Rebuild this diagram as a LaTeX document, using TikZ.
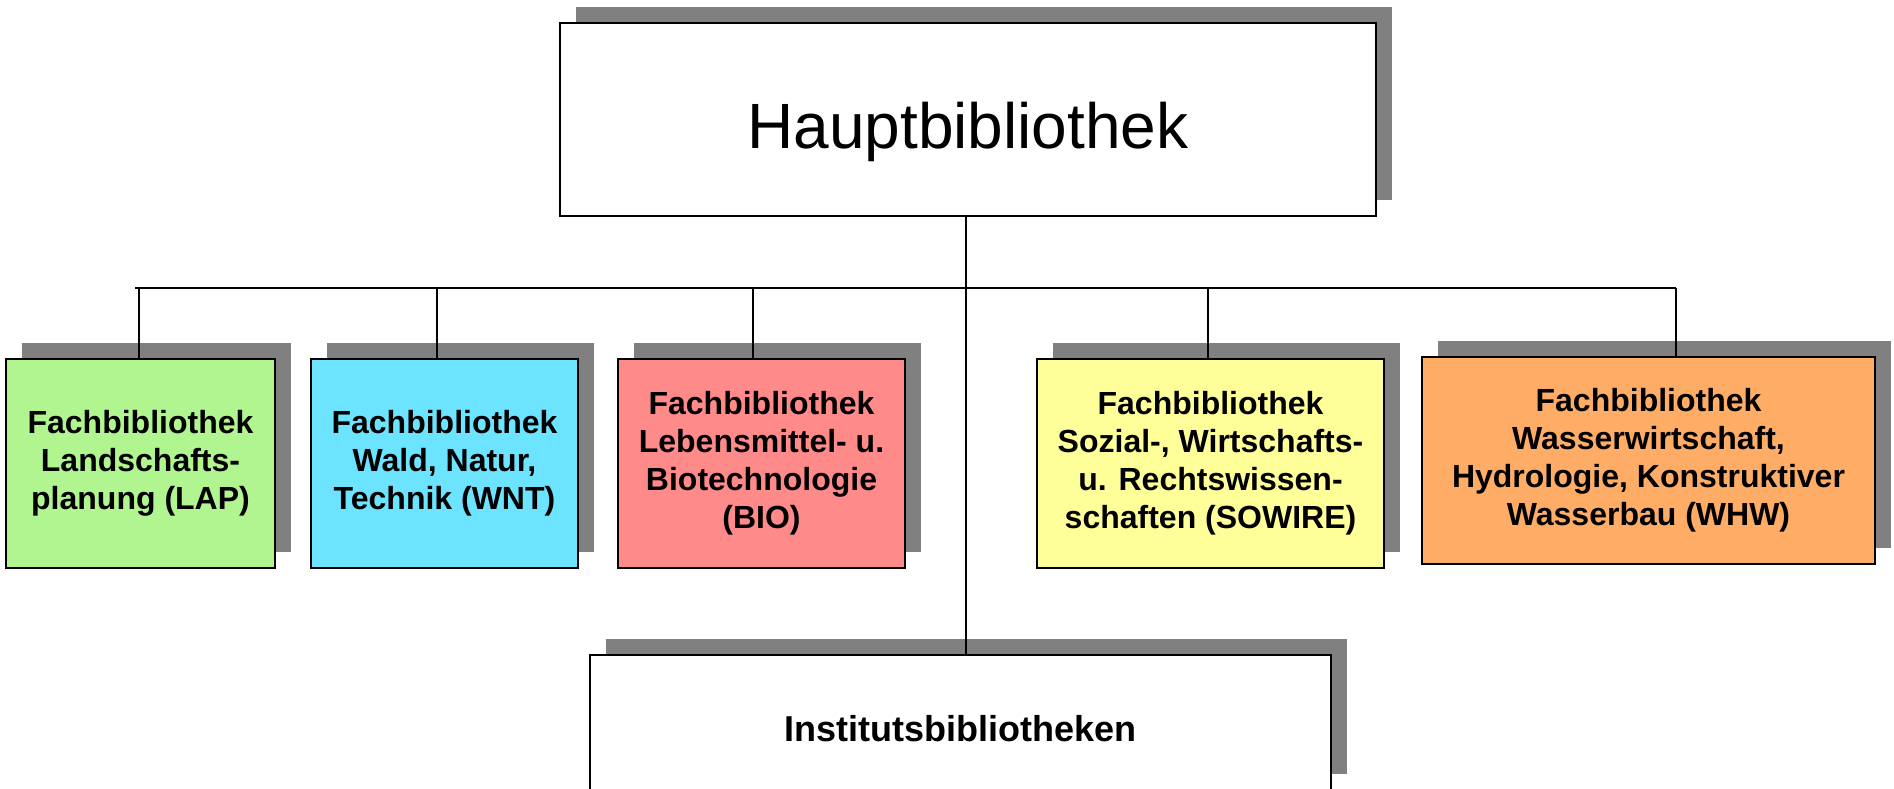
\documentclass[tikz,border=0pt]{standalone}
\usepackage{fontspec}
\setmainfont{Liberation Sans}
\usetikzlibrary{shadows}
\definecolor{shadowgray}{HTML}{808080}
\definecolor{lapgreen}{HTML}{B0F590}
\definecolor{wntcyan}{HTML}{6CE3FF}
\definecolor{biored}{HTML}{FF8A8A}
\definecolor{sowireyellow}{HTML}{FFFF99}
\definecolor{whworange}{HTML}{FFAD66}
\newcommand\lowertext[2]{\raisebox{-#1}[\height][\depth]{#2}}
\begin{document}
\begin{tikzpicture}[x=1pt,y=-1pt,
	box/.style={draw,line width=1.6pt,inner sep=0pt,align=center,
		font=\bfseries\fontsize{32}{38}\selectfont,
		drop shadow={shadow xshift=16pt,shadow yshift=16pt,fill=shadowgray,opacity=1}},
	fach/.style={box,minimum height=209}]
	\useasboundingbox(0,0)rectangle(1894,789);
	\node[box,fill=white,font=\fontsize{64}{77}\selectfont,minimum width=816,minimum height=193](haupt)at(968,119.5){\lowertext{12pt}{Hauptbibliothek}};
	\node[fach,fill=lapgreen,minimum width=269](lap)at(140.5,463.5){Fachbibliothek\\Landschafts-\\planung (LAP)};
	\node[fach,fill=wntcyan,minimum width=267](wnt)at(444.5,463.5){Fachbibliothek\\Wald, Natur,\\Technik (WNT)};
	\node[fach,fill=biored,minimum width=287](bio)at(761.5,463.5){Fachbibliothek\\Lebensmittel- u.\\Biotechnologie\\(BIO)};
	\node[fach,fill=sowireyellow,minimum width=347](sowire)at(1210.5,463.5){Fachbibliothek\\Sozial-, Wirtschafts-\\u. Rechtswissen-\\schaften (SOWIRE)};
	\node[box,fill=whworange,minimum width=453,minimum height=207](whw)at(1648.5,460.5){Fachbibliothek\\Wasserwirtschaft,\\Hydrologie, Konstruktiver\\Wasserbau (WHW)};
	\node[box,fill=white,font=\bfseries\fontsize{36}{43}\selectfont,minimum width=741,minimum height=135](inst)at(960.5,722.5){\lowertext{6pt}{Institutsbibliotheken}};
	% bus line
	\coordinate(busl)at(135,288);
	\coordinate(busr)at(1676,288);
	\coordinate(trunk)at(966,288);
	\draw[line width=1.8pt](busl)--(busr);
	\draw[line width=1.2pt](trunk|-haupt.south)--(trunk|-inst.north);
	\foreach \n/\x in{lap/139,wnt/437,bio/753,sowire/1208,whw/1676}{
		\coordinate(d\n)at(\x,288);
		\draw[line width=1.2pt](d\n)--(d\n|-\n.north);
	}
\end{tikzpicture}
\end{document}
